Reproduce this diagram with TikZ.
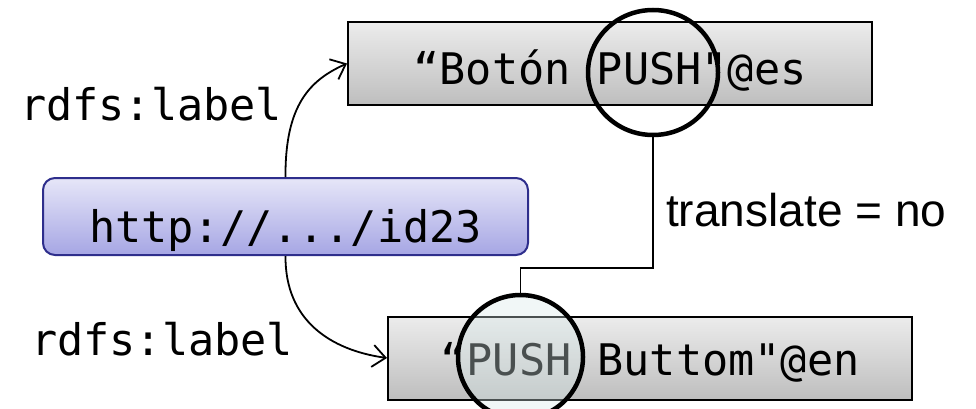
\documentclass[tikz,border=0pt]{standalone}
\usepackage{fontspec}
\setmainfont{Liberation Sans}
\setmonofont{DejaVu Sans Mono}
\usetikzlibrary{shapes.geometric,arrows.meta}
\definecolor{boxtop}{RGB}{236,236,236}
\definecolor{boxbot}{RGB}{190,190,190}
\definecolor{bluetop}{RGB}{230,230,248}
\definecolor{bluebot}{RGB}{166,166,228}
\definecolor{blueline}{RGB}{46,46,140}
\definecolor{circfill}{RGB}{214,232,232}
\begin{document}
\begin{tikzpicture}[x=1pt,y=-1pt,
  monotext/.style={font=\ttfamily\fontsize{43.5}{50}\selectfont},
  graybox/.style={draw=black, line width=2pt, top color=boxtop, bottom color=boxbot,
    minimum width=524pt, minimum height=83pt, inner sep=0pt, text depth=0pt, monotext},
  bluebox/.style={draw=blueline, line width=2pt, rounded corners=12pt, top color=bluetop,
    bottom color=bluebot, minimum width=485pt, minimum height=77pt, inner sep=0pt,
    text depth=0pt, text height=51pt, monotext},
  lbl/.style={anchor=base west, inner sep=0pt, monotext},
  ring/.style={draw=black, ellipse, line width=4.5pt, inner sep=0pt},
  arr/.style={line width=1.8pt, -{Straight Barb[length=13pt,width=22pt]}},
  link/.style={line width=1.3pt}
]
\useasboundingbox (0,0) rectangle (976,409);

\node[graybox, text height=43pt] (es) at (610,63.5) {“Botón PUSH"@es};
\node[graybox, text height=34pt] (en) at (650,358) {“PUSH Buttom"@en};
\node[bluebox] (uri) at (285.5,216.5) {http://.../id23};

\node[lbl] (l1) at (20,121) {rdfs:label};
\node[lbl] (l2) at (31,355) {rdfs:label};

\node[ring, minimum width=130pt, minimum height=125pt] (c1) at (653,72.5) {};
\node[ring, fill=circfill, fill opacity=0.35, minimum width=125pt, minimum height=124pt] (c2) at (520.5,357) {};

\coordinate (k1) at (653,268);
\coordinate (k2) at (520.5,268);
\draw[link] (c1.south) -- (k1) -- (k2) -- (c2.north);

\node[anchor=base west, inner sep=0pt, font=\fontsize{46}{54}\selectfont] (tr) at (666,226) {translate = no};

\draw[arr] (uri.north) .. controls (285,105) and (310,80) .. (es.west);
\draw[arr] (uri.south) .. controls (285,320) and (330,350) .. (en.west);
\end{tikzpicture}
\end{document}
